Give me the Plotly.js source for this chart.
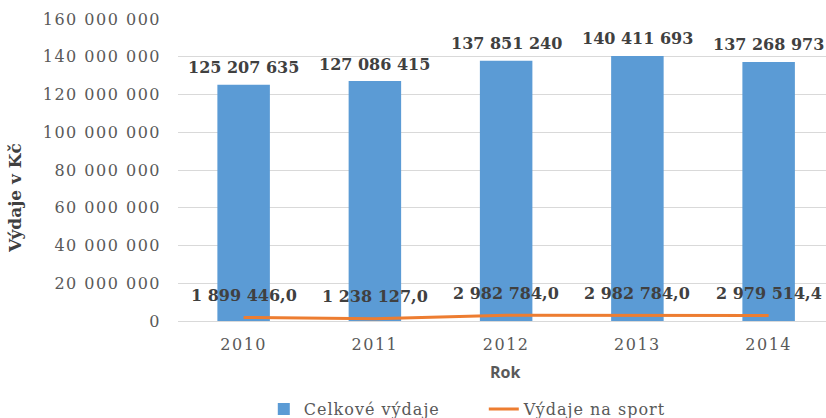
<!DOCTYPE html>
<html>
<head>
<meta charset="utf-8">
<script src="https://cdn.plot.ly/plotly-3.0.1.min.js"></script>
<style>
html,body{margin:0;padding:0;background:#fff;}
#chart{width:826px;height:418px;}
#chart .ytick text, #chart .xtick text{letter-spacing:1.5px;}
#chart .legendtext{letter-spacing:1px;}
</style>
</head>
<body>
<div id="chart"></div>
<script>
var years = ["2010", "2011", "2012", "2013", "2014"];
var celkoveVydaje = [125207635, 127086415, 137851240, 140411693, 137268973];
var vydajeNaSport = [1899446.0, 1238127.0, 2982784.0, 2982784.0, 2979514.4];
var yTickVals = [0, 20000000, 40000000, 60000000, 80000000, 100000000, 120000000, 140000000, 160000000];
var seriesNames = ["Celkové výdaje", "Výdaje na sport"];

function fmt(v, dec) {
  var s = v.toFixed(dec);
  var parts = s.split(".");
  var ip = parts[0].replace(/\B(?=(\d{3})+(?!\d))/g, " ");
  return parts.length > 1 ? ip + "," + parts[1] : ip;
}

var serif = "DejaVu Serif, Georgia, serif";
var gray = "#595959";
var dark = "#404040";

var xIdx = years.map(function(_, i){ return i; });

var traces = [
  {
    type: "bar",
    x: xIdx,
    y: celkoveVydaje,
    name: seriesNames[0],
    marker: {color: "#5B9BD5"},
    width: 0.4,
    hoverinfo: "skip"
  },
  {
    type: "scatter",
    mode: "lines",
    x: xIdx,
    y: vydajeNaSport,
    name: seriesNames[1],
    line: {color: "#ED7D31", width: 3},
    hoverinfo: "skip"
  }
];

var annotations = [];
xIdx.forEach(function(i){
  annotations.push({
    x: i, y: celkoveVydaje[i], xref: "x", yref: "y",
    text: fmt(celkoveVydaje[i], 0), showarrow: false,
    yanchor: "middle", yshift: 17,
    font: {family: serif, size: 16, color: dark, weight: "bold"}
  });
  annotations.push({
    x: i, y: vydajeNaSport[i], xref: "x", yref: "y",
    text: fmt(vydajeNaSport[i], 1), showarrow: false,
    yanchor: "middle", yshift: 22,
    font: {family: serif, size: 16, color: dark, weight: "bold"}
  });
});
annotations.push({
  text: "Výdaje v Kč", xref: "paper", yref: "paper",
  x: -0.2515, xanchor: "center", y: 0.407, yanchor: "middle",
  textangle: -90, showarrow: false,
  font: {family: serif, size: 17, color: dark, weight: "bold"}
});
annotations.push({
  text: "Rok", xref: "paper", yref: "paper",
  x: 0.5046, xanchor: "center", y: -0.169, yanchor: "middle",
  showarrow: false,
  font: {family: "Open Sans, Lato, sans-serif", size: 16, color: gray, weight: "bold"}
});

var layout = {
  width: 826, height: 418,
  margin: {l: 178, r: 0, t: 19, b: 97},
  paper_bgcolor: "#fff", plot_bgcolor: "#fff",
  separators: ", ",
  showlegend: true,
  legend: {
    orientation: "h",
    xref: "paper", x: 0.1324, xanchor: "left",
    yref: "container", y: 0.0215, yanchor: "middle",
    font: {family: "DejaVu Serif", size: 16, color: gray},
    itemwidth: 30,
    entrywidth: 175, entrywidthmode: "pixels"
  },
  xaxis: {
    range: [-0.5, 4.437],
    tickvals: xIdx, ticktext: years,
    showgrid: false, zeroline: false,
    showline: false, ticks: "",
    ticklabelstandoff: 12,
    tickfont: {family: serif, size: 16, color: gray}
  },
  yaxis: {
    range: [0, 160000000],
    tickvals: yTickVals,
    tickformat: ",d",
    showgrid: true, gridcolor: "#d9d9d9", gridwidth: 1,
    zeroline: true, zerolinecolor: "#d9d9d9", zerolinewidth: 1,
    showline: false, ticks: "",
    ticklabelstandoff: 16,
    tickfont: {family: serif, size: 16, color: gray}
  },
  annotations: annotations
};

Plotly.newPlot("chart", traces, layout, {displayModeBar: false, staticPlot: true});
</script>
</body>
</html>
